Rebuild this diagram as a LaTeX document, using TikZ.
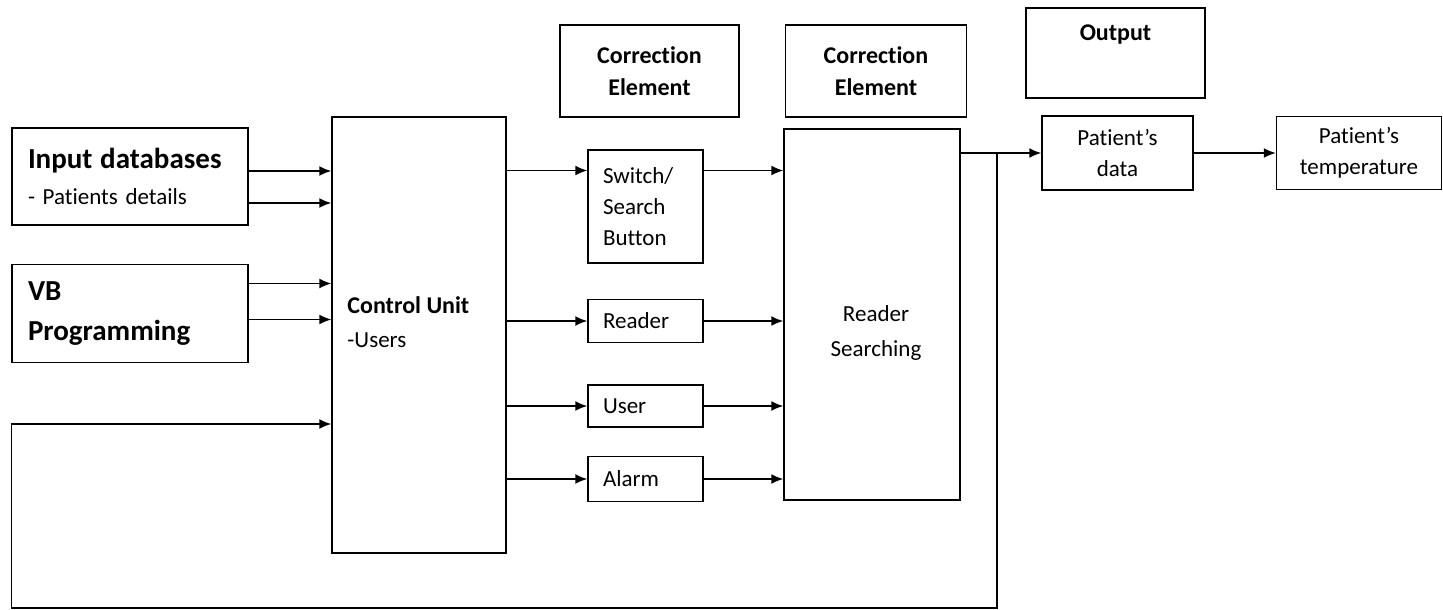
\documentclass[tikz,border=0pt]{standalone}
\usepackage{fontspec}
\setmainfont{Carlito}[Ligatures=NoCommon]
\usetikzlibrary{arrows.meta}
\usetikzlibrary{positioning}
\usetikzlibrary{calc}
\newcommand{\bigbold}{\fontsize{29}{40}\selectfont\bfseries}
\newcommand{\midbold}{\fontsize{24}{32}\selectfont\bfseries}
\newcommand{\plaintxt}{\fontsize{23}{31}\selectfont}
\tikzset {
  block path/.style = {
    draw = black,
    line width = 1.5pt
  },
  % path style with an arrow at the end
  arr/.style = {
    block path,
    -{Latex[length=12pt,width=10pt]}
  },
  % path style with no arrows
  narr/.style = {
    block path
  }
}
\tikzset {
  block/.style = {
    draw = black,
    line width = 1.5pt,
    rectangle,
    inner sep = 0pt,
    font = \plaintxt
  },
  % box with text flush left
  leftbox/.style = {
    block,
    align = left,
    inner xsep = 16pt
  },
  % small element box
  elem/.style = {
    block,
    align = left,
    text width = 85pt,
    inner xsep = 15pt,
    minimum height = 44pt
  },
  % box with centred text
  midbox/.style = {
    block,
    align = center
  },
  % text placed inside a bigger box
  boxtext/.style = {
    inner sep = 0pt,
    font = \plaintxt
  },
  node distance = 0.5cm
}

\begin{document}
\begin{tikzpicture}[x=1pt, y=-1pt]
    \useasboundingbox (0,0) rectangle (1443,610);

    \node[leftbox, text width=204pt, minimum height=97pt] (indb) at (130,176.5)
      {{\bigbold Input databases}\\[5pt]- Patients details};
    \node[leftbox, text width=204pt, minimum height=98pt, font=\bigbold] (vb) [below=38pt of indb]
      {VB\\Programming};
    \node[block, minimum width=174pt, minimum height=436pt] (cu) at (419,335) {};
    \node[boxtext, align=left, anchor=north west] (cutxt) at ($(cu.north west)+(16,180)$)
      {{\midbold Control Unit}\\[3pt]-Users};

    \node[midbox, minimum width=179pt, minimum height=92pt, font=\midbold] (ce1) at (649.5,71)
      {Correction\\Element};
    \node[midbox, minimum width=181pt, minimum height=92pt, font=\midbold] (ce2) [right=45pt of ce1]
      {Correction\\Element};
    \node[block, minimum width=179pt, minimum height=90pt] (out) at (1115.5,53) {};
    \node[font=\midbold, anchor=base, inner sep=0pt] (outtxt) at ($(out.north)+(0,33)$) {Output};

    \node[elem, minimum height=113pt] (sw) at (645.5,206.5) {Switch/\\Search\\Button};
    \node[elem, minimum height=43pt] (rd) [below=35pt of sw] {Reader};
    \node[elem, minimum height=42pt] (usr) [below=41pt of rd] {User};
    \node[elem, minimum height=45pt] (alm) [below=28pt of usr] {Alarm};

    \node[block, minimum width=176pt, minimum height=371pt] (rs) at (872,314.5) {};
    \node[boxtext, align=center, anchor=north, font=\fontsize{23}{35}\selectfont] (rstxt)
      at ($(rs.north)+(4,177)$) {Reader\\Searching};

    \node[midbox, minimum width=151pt, minimum height=74pt] (pd) at (1117.5,153) {Patient’s\\data};
    \node[midbox, minimum width=165pt, minimum height=73pt] (pt) [right=82pt of pd] {Patient’s\\temperature};

    \coordinate (swin) at ([yshift=36pt]sw.west);
    \coordinate (split) at ($(rs.east |- pd.west)+(36,0)$);
    \coordinate (fbbot) at ($(split)+(0,455)$);
    \coordinate (fbin) at ($(cu.west)+(0,89)$);

    \draw[arr] ([yshift=5.5pt]indb.east) -- ([yshift=5.5pt]indb.east -| cu.west);
    \draw[arr] ([yshift=-26.5pt]indb.east) -- ([yshift=-26.5pt]indb.east -| cu.west);
    \draw[arr] ([yshift=30pt]vb.east) -- ([yshift=30pt]vb.east -| cu.west);
    \draw[arr] ([yshift=-6pt]vb.east) -- ([yshift=-6pt]vb.east -| cu.west);

    \draw[arr] (cu.east |- swin) -- (swin);
    \draw[arr] (cu.east |- rd.west) -- (rd.west);
    \draw[arr] (cu.east |- usr.west) -- (usr.west);
    \draw[arr] (cu.east |- alm.west) -- (alm.west);

    \draw[arr] (swin -| sw.east) -- (swin -| rs.west);
    \draw[arr] (rd.east) -- (rd.east -| rs.west);
    \draw[arr] (usr.east) -- (usr.east -| rs.west);
    \draw[arr] (alm.east) -- (alm.east -| rs.west);

    \draw[arr] (rs.east |- pd.west) -- (pd.west);
    \draw[arr] (pd.east) -- (pt.west);

    % feedback loop back to the control unit
    \draw[arr] (split) -- (fbbot) -- (fbbot -| indb.west) -- (fbin -| indb.west) -- (fbin);
\end{tikzpicture}
\end{document}
